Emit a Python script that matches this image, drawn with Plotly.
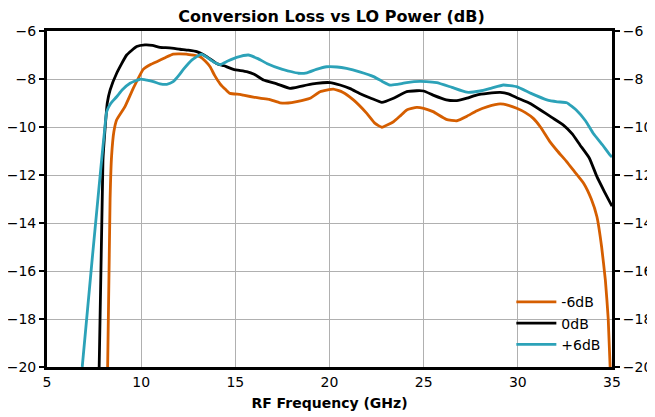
import plotly.graph_objects as go

# Conversion loss measurements (dB) read per LO power level
freq_m6 = [8.22, 8.35, 8.43, 8.55, 8.7, 9.14, 9.58, 10.11, 10.5, 10.83, 11.3, 11.7, 12.4, 13.12,
           13.4, 13.66, 13.9, 14.19, 14.5, 14.72, 15.25, 15.42, 16.3, 16.8, 17.37, 17.8, 18.26,
           18.97, 19.5, 20.2, 20.7, 21.27, 21.98, 22.42, 22.78, 23.4, 23.75, 24.1, 24.63, 25.0,
           25.5, 26.2, 26.76, 27.3, 27.8, 28.4, 29.06, 29.5, 29.94, 30.4, 30.82, 31.2, 31.7,
           32.1, 32.6, 33.0, 33.5, 33.9, 34.2, 34.45, 34.65, 34.8, 34.9]
loss_m6 = [-20, -13, -11.2, -10.2, -9.7, -9.15, -8.39, -7.6, -7.4, -7.28, -7.1, -6.96, -6.96, -7.07,
           -7.25, -7.49, -7.85, -8.2, -8.45, -8.6, -8.64, -8.67, -8.8, -8.85, -8.99, -9.0, -8.94,
           -8.8, -8.53, -8.42, -8.55, -8.87, -9.43, -9.85, -10.01, -9.78, -9.54, -9.29, -9.18, -9.22,
           -9.36, -9.68, -9.74, -9.55, -9.33, -9.15, -9.04, -9.1, -9.22, -9.4, -9.64, -10.0, -10.61,
           -11.0, -11.45, -11.85, -12.35, -13.0, -13.74, -15.0, -16.4, -18.0, -20]

freq_0 = [7.77, 7.97, 8.08, 8.2, 8.35, 8.7, 9.23, 9.76, 10.2, 10.6, 11.0, 11.5, 12.06, 12.5,
          12.95, 13.48, 14.0, 14.4, 14.9, 15.6, 16.0, 16.49, 17.2, 17.9, 18.4, 18.8, 19.3, 20.03,
          20.56, 21.1, 21.6, 22.2, 22.78, 23.4, 24.1, 24.63, 25.0, 25.5, 26.2, 26.76, 27.3, 27.8,
          28.4, 29.06, 29.5, 29.94, 30.6, 31.2, 31.8, 32.42, 32.9, 33.3, 33.8, 34.2, 34.6, 35.0]
loss_0 = [-20, -11.4, -10.1, -9.0, -8.46, -7.76, -7.0, -6.65, -6.58, -6.6, -6.68, -6.7, -6.76, -6.8,
          -6.86, -7.07, -7.35, -7.45, -7.6, -7.69, -7.8, -8.04, -8.2, -8.39, -8.32, -8.25, -8.18, -8.15,
          -8.25, -8.4, -8.6, -8.8, -8.97, -8.8, -8.53, -8.49, -8.5, -8.67, -8.87, -8.9, -8.8, -8.67,
          -8.6, -8.56, -8.62, -8.78, -9.0, -9.29, -9.6, -9.92, -10.3, -10.75, -11.3, -12.07, -12.7, -13.3]

freq_p6 = [6.87, 7.4, 7.9, 8.05, 8.17, 8.4, 8.7, 9.0, 9.41, 9.94, 10.3, 10.65, 11.0, 11.36, 11.7,
           12.0, 12.24, 12.7, 13.2, 13.5, 13.83, 14.19, 14.6, 15.07, 15.69, 16.2, 16.67, 17.5,
           18.35, 18.8, 19.3, 19.85, 20.4, 20.9, 21.6, 22.34, 22.8, 23.2, 23.6, 24.1, 24.8, 25.3,
           25.7, 26.5, 27.29, 28.0, 28.6, 29.23, 29.94, 30.7, 31.54, 32.1, 32.6, 33.1, 33.6, 34.0,
           34.5, 34.9, 35.0]
loss_p6 = [-20, -15.5, -11.375, -10.2, -9.36, -9.0, -8.74, -8.45, -8.18, -8.01, -8.05, -8.11, -8.2,
           -8.22, -8.11, -7.85, -7.6, -7.2, -6.96, -7.1, -7.28, -7.4, -7.25, -7.1, -7.0, -7.15, -7.35,
           -7.6, -7.76, -7.74, -7.6, -7.49, -7.5, -7.56, -7.7, -7.9, -8.1, -8.25, -8.22, -8.15, -8.1,
           -8.12, -8.15, -8.35, -8.55, -8.5, -8.38, -8.25, -8.32, -8.6, -8.87, -8.95, -8.99, -9.29,
           -9.75, -10.26, -10.75, -11.17, -11.25]

y_ticks = [-6, -8, -10, -12, -14, -16, -18, -20]
x_ticks = [5, 10, 15, 20, 25, 30, 35]

FONT = "DejaVu Sans"

fig = go.Figure()
series = [
    ("-6dB", freq_m6, loss_m6, "#D55E00"),
    ("0dB", freq_0, loss_0, "#000000"),
    ("+6dB", freq_p6, loss_p6, "#2CA2B8"),
]
for name, xs, ys, color in series:
    fig.add_trace(go.Scatter(
        x=xs, y=ys, mode="lines", name=name,
        line=dict(color=color, width=2.8, shape="spline", smoothing=0.4),
    ))

# dummy trace so the mirrored right axis gets drawn
fig.add_trace(go.Scatter(x=[5], y=[-20], yaxis="y2", mode="markers",
                         marker=dict(opacity=0), showlegend=False, hoverinfo="skip"))

# page body has an 8px margin, so the figure is sized to fit inside the window
axis_font = dict(family=FONT, size=14, color="black")
fig.update_layout(
    width=647, height=409,
    margin=dict(l=39, r=43, t=23, b=50, autoexpand=False),
    plot_bgcolor="white", paper_bgcolor="white",
    font=dict(family=FONT, color="black"),
    title=dict(text="<b>Conversion Loss vs LO Power (dB)</b>", x=0.5, xanchor="center",
               y=0.992, yanchor="top", pad=dict(t=0, b=0),
               font=dict(family=FONT, size=16, color="black")),
    xaxis=dict(range=[5, 35], tickvals=x_ticks, ticks="", tickfont=axis_font,
               showgrid=True, gridcolor="#b0b0b0", gridwidth=1, automargin=False,
               showline=True, linecolor="black", linewidth=3, mirror=True,
               zeroline=False,
               title=dict(text="<b>RF Frequency (GHz)</b>", standoff=10,
                          font=dict(family=FONT, size=14, color="black"))),
    yaxis=dict(range=[-20, -6], tickvals=y_ticks, ticks="outside", ticklen=5, tickwidth=1.5,
               tickcolor="black", tickfont=axis_font, tickformat="d", automargin=False,
               showgrid=True, gridcolor="#b0b0b0", gridwidth=1,
               showline=True, linecolor="black", linewidth=3, zeroline=False),
    yaxis2=dict(range=[-20, -6], tickvals=y_ticks, ticks="outside", ticklen=5, tickwidth=1.5,
                tickcolor="black", tickfont=axis_font, overlaying="y", side="right",
                anchor="x", showgrid=False, zeroline=False, automargin=False,
                showline=True, linecolor="black", linewidth=3),
    legend=dict(x=0.99, y=0.02, xanchor="right", yanchor="bottom",
                bgcolor="rgba(0,0,0,0)", font=dict(family=FONT, size=14, color="black"),
                itemwidth=40, tracegroupgap=2),
    showlegend=True,
)

fig.write_html("out.html")
